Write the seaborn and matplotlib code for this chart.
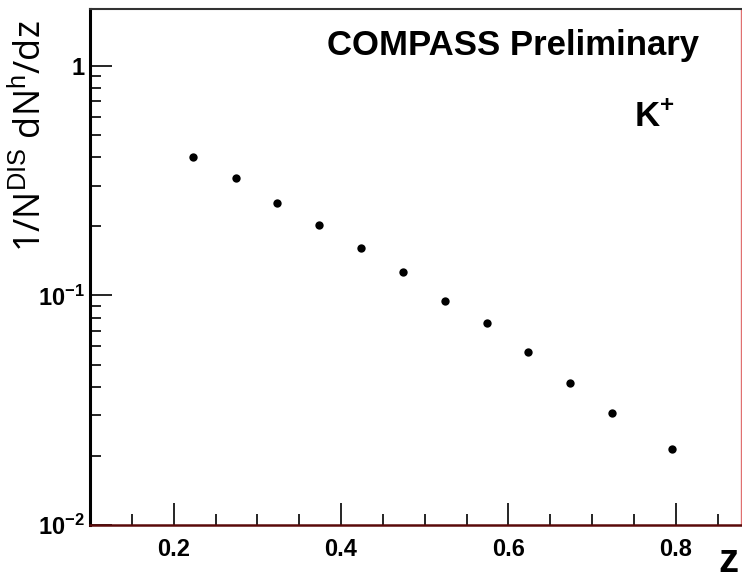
import matplotlib
matplotlib.use("Agg")
import matplotlib.pyplot as plt
import matplotlib.ticker as mticker
import seaborn as sns
import pandas as pd

z_values = [0.223, 0.274, 0.324, 0.374, 0.424, 0.474, 0.524, 0.574, 0.624, 0.674, 0.724, 0.795]
multiplicity = [0.400, 0.325, 0.254, 0.202, 0.161, 0.126, 0.095, 0.0755, 0.0569, 0.0417, 0.0308, 0.0215]
x_ticks = [0.2, 0.4, 0.6, 0.8]
x_tick_labels = ["0.2", "0.4", "0.6", "0.8"]
y_ticks = [0.01, 0.1, 1.0]
y_tick_labels = [r"$\mathbf{10^{-2}}$", r"$\mathbf{10^{-1}}$", "1"]

df = pd.DataFrame({"z": z_values, "m": multiplicity})

sns.set_style("white")
plt.rcParams["font.family"] = ["Liberation Sans", "DejaVu Sans"]
plt.rcParams["mathtext.fontset"] = "custom"
plt.rcParams["mathtext.rm"] = "Liberation Sans"
plt.rcParams["mathtext.bf"] = "Liberation Sans:bold"
plt.rcParams["text.color"] = "black"
plt.rcParams["xtick.color"] = "black"
plt.rcParams["ytick.color"] = "black"
plt.rcParams["xtick.labelcolor"] = "black"
plt.rcParams["ytick.labelcolor"] = "black"

fig = plt.figure(figsize=(7.42, 5.82), dpi=100)
ax = fig.add_axes([90 / 742, 1 - 525 / 582, (741 - 90) / 742, (525 - 9) / 582])

sns.scatterplot(data=df, x="z", y="m", ax=ax, color="black", s=36, edgecolor="black", linewidth=0, zorder=5)

ax.set_yscale("log")
ax.set_xlim(0.1, 0.878)
ax.set_ylim(0.01, 1.77)

ax.set_xticks(x_ticks)
ax.set_xticklabels(x_tick_labels, fontsize=17, fontweight="bold")
ax.xaxis.set_minor_locator(mticker.MultipleLocator(0.05))
ax.set_yticks(y_ticks)
ax.set_yticklabels(y_tick_labels, fontsize=17, fontweight="bold")
ax.yaxis.set_minor_locator(mticker.LogLocator(base=10, subs=range(2, 10)))
ax.yaxis.set_minor_formatter(mticker.NullFormatter())

ax.tick_params(axis="both", which="major", direction="in", length=16, width=1.2, color="black",
               bottom=True, left=True, top=False, right=False, pad=4)
ax.tick_params(axis="both", which="minor", direction="in", length=8, width=1.2, color="black",
               bottom=True, left=True, top=False, right=False)
ax.tick_params(axis="x", which="major", pad=9)

ax.spines["left"].set_linewidth(2.2)
ax.spines["left"].set_color("black")
ax.spines["bottom"].set_linewidth(1.8)
ax.spines["bottom"].set_color("#5a0a0a")
ax.spines["top"].set_linewidth(1.5)
ax.spines["top"].set_color("#333333")
ax.spines["right"].set_linewidth(1.0)
ax.spines["right"].set_color("#e07070")

ax.set_xlabel("")
ax.set_ylabel("")
fig.text(31 / 742, 1 - 136 / 582, r"1/N$^{\mathrm{DIS}}$ dN$^{\mathrm{h}}$/dz", rotation=90,
         ha="center", va="center", fontsize=26, family=["Open Sans", "DejaVu Sans"])
fig.text(739 / 742, 1 - 580 / 582, "z", ha="right", va="bottom", fontsize=29, fontweight="bold")

ax.text(513 / 742, 1 - 45 / 582, "COMPASS Preliminary", transform=fig.transFigure,
        ha="center", va="center", fontsize=25, fontweight="bold")
ax.text(654 / 742, 1 - 118 / 582, r"K$^{\mathbf{+}}$", transform=fig.transFigure,
        ha="center", va="center", fontsize=25, fontweight="bold")

fig.savefig("out.png", dpi=100)
